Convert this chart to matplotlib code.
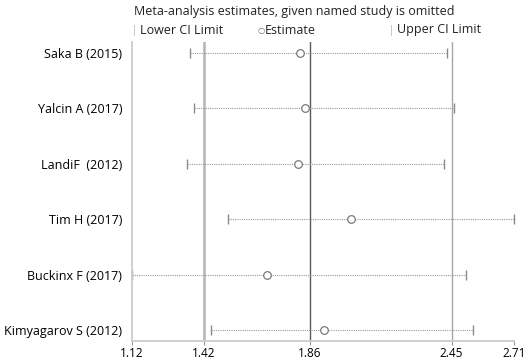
import numpy as np
import matplotlib
matplotlib.use("Agg")
import matplotlib.pyplot as plt

plt.rcParams['font.family'] = ['Open Sans', 'DejaVu Sans']

# leave-one-out estimates with their CI limits
studies = ["Saka B (2015)", "Yalcin A (2017)", "LandiF  (2012)",
           "Tim H (2017)", "Buckinx F (2017)", "Kimyagarov S (2012)"]
lower = [1.36, 1.38, 1.35, 1.52, 1.12, 1.45]
estimate = [1.82, 1.84, 1.81, 2.03, 1.68, 1.92]
upper = [2.43, 2.46, 2.42, 2.71, 2.51, 2.54]

# pooled estimate and its CI, axis range
pooled = [1.42, 1.86, 2.45]
xticks = [1.12, 1.42, 1.86, 2.45, 2.71]

fig = plt.figure(figsize=(5.31, 3.6), dpi=100)
ax = fig.add_axes([132/531, 1 - 341/360, (514-132)/531, (341-42)/360])

y = np.arange(1, len(studies) + 1)

ax.axvline(pooled[0], color='#b4b4b4', lw=1.8, zorder=1)
ax.axvline(pooled[1], color='#5a5a5a', lw=1.0, zorder=1)
ax.axvline(pooled[2], color='#a8a8a8', lw=1.0, zorder=1)

for i in range(len(studies)):
    ax.plot([lower[i], upper[i]], [y[i], y[i]], color='#9a9a9a', lw=0.8,
            linestyle=(0, (1, 1)), zorder=2, clip_on=False)
ax.plot(lower, y, linestyle='none', marker='|', markersize=7, color='#8a8a8a',
        mew=1.0, zorder=3, clip_on=False)
ax.plot(upper, y, linestyle='none', marker='|', markersize=7, color='#8a8a8a',
        mew=1.0, zorder=3, clip_on=False)
ax.plot(estimate, y, linestyle='none', marker='o', markersize=5.5,
        markerfacecolor='white', markeredgecolor='#7a7a7a', mew=0.9, zorder=4)

ax.set_xlim(xticks[0], xticks[-1])
ax.set_ylim(6.2, 0.8)
ax.set_xticks(xticks)
ax.set_xticklabels(["%.2f" % v for v in xticks], fontsize=8.5)
ax.set_yticks(y)
ax.set_yticklabels(studies, fontsize=9)
ax.tick_params(axis='x', length=3, color='#999999', pad=1)
ax.tick_params(axis='y', length=0, pad=7)

for s in ['top', 'right']:
    ax.spines[s].set_visible(False)
for s in ['left', 'bottom']:
    ax.spines[s].set_color('#cccccc')
    ax.spines[s].set_linewidth(1.3)
    ax.spines[s].set_zorder(5)

fig.text(134/531, 1 - 11/360, "Meta-analysis estimates, given named study is omitted",
         fontsize=9, va='center', ha='left', color='#222222')
ly = 1 - 30/360
fig.text(132/531, ly, "|", fontsize=7, va='center', ha='left', color='#aaaaaa')
fig.text(140/531, ly, "Lower CI Limit", fontsize=9, va='center', ha='left', color='#222222')
fig.text(257/531, ly, "\u25cb", fontsize=6, va='center', ha='left', color='#666666',
         family=['DejaVu Sans'])
fig.text(265/531, ly, "Estimate", fontsize=9, va='center', ha='left', color='#222222')
fig.text(389/531, ly, "|", fontsize=7, va='center', ha='left', color='#aaaaaa')
fig.text(397/531, ly, "Upper CI Limit", fontsize=9, va='center', ha='left', color='#222222')

fig.savefig("out.png", dpi=100)
